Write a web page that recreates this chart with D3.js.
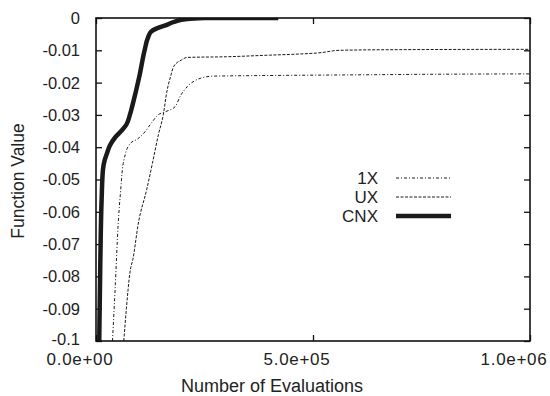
<!DOCTYPE html>
<meta charset="utf-8">
<script src="https://d3js.org/d3.v7.min.js"></script>
<style>
  body { margin: 0; background: #fff; }
  text { font-family: "Liberation Sans", Arial, sans-serif; fill: #222; }
</style>
<div id="chart"></div>
<script>
// evaluations vs. function value
var cnxData = [[7.5e3,-0.1],[1.0e4,-0.075],[1.3e4,-0.056],[1.6e4,-0.047],[2.0e4,-0.0440],[2.5e4,-0.0420],
  [3.2e4,-0.0395],[4.4e4,-0.0370],[5.8e4,-0.0350],[7.0e4,-0.0330],[7.8e4,-0.0300],[8.5e4,-0.0265],
  [1.0e5,-0.0180],[1.12e5,-0.0100],[1.2e5,-0.0060],[1.27e5,-0.0042],[1.4e5,-0.0032],[1.6e5,-0.0023],
  [1.8e5,-0.0012],[2.1e5,-0.0003],[2.5e5,0],[4.2e5,0]];
var oneXData = [[3.8e4,-0.1],[4.4e4,-0.084],[5.1e4,-0.064],[5.7e4,-0.053],[6.0e4,-0.048],[6.8e4,-0.042],
  [7.8e4,-0.039],[9.5e4,-0.0375],[1.08e5,-0.036],[1.25e5,-0.033],[1.43e5,-0.030],[1.6e5,-0.029],
  [1.82e5,-0.0275],[1.95e5,-0.024],[2.1e5,-0.0213],[2.4e5,-0.0187],[2.7e5,-0.0180],[4e5,-0.0178],
  [6e5,-0.0176],[8e5,-0.0174],[1e6,-0.0173]];
var uxData = [[6.4e4,-0.1],[7.0e4,-0.09],[7.8e4,-0.079],[8.6e4,-0.074],[9.7e4,-0.064],[1.17e5,-0.053],
  [1.3e5,-0.045],[1.44e5,-0.036],[1.55e5,-0.030],[1.63e5,-0.023],[1.72e5,-0.018],[1.79e5,-0.015],
  [1.97e5,-0.013],[2.1e5,-0.0122],[3e5,-0.0120],[4e5,-0.0115],[4.6e5,-0.0112],[5.2e5,-0.0107],
  [5.6e5,-0.0100],[7e5,-0.0098],[1e6,-0.0097]];

var seriesNames = ["1X", "UX", "CNX"];
var xTicks = [0, 5e5, 1e6];
var yTicks = [0, -0.01, -0.02, -0.03, -0.04, -0.05, -0.06, -0.07, -0.08, -0.09, -0.1];

var margin = {top: 18, right: 20, bottom: 55, left: 96},
    width = 530 - margin.left,
    height = 341 - margin.top;

var svg = d3.select("#chart").append("svg")
    .attr("width", 550)
    .attr("height", 396);
var g = svg.append("g")
    .attr("transform", "translate(" + margin.left + "," + margin.top + ")");

var x = d3.scaleLinear().domain([0, 1e6]).range([0, width]);
var y = d3.scaleLinear().domain([-0.1, 0]).range([height, 0]);

g.append("clipPath").attr("id", "clip")
  .append("rect").attr("width", width).attr("height", height);

// inward ticks on all four sides
g.append("g").call(d3.axisBottom(x).tickValues(xTicks).tickSize(-6).tickFormat(""))
    .attr("transform", "translate(0," + height + ")");
g.append("g").call(d3.axisTop(x).tickValues(xTicks).tickSize(-6).tickFormat(""));
g.append("g").call(d3.axisLeft(y).tickValues(yTicks).tickSize(-6).tickFormat(""));
g.append("g").call(d3.axisRight(y).tickValues(yTicks).tickSize(-6).tickFormat(""))
    .attr("transform", "translate(" + width + ",0)");
g.selectAll(".domain").remove();
g.selectAll(".tick line").attr("stroke", "#111").attr("stroke-width", 1.3);

// tick labels
g.selectAll(".xlab").data(xTicks).enter().append("text")
    .attr("x", function(d) { return x(d) - 16; })
    .attr("y", height + 24)
    .attr("text-anchor", "middle")
    .style("font-size", "17px")
    .style("letter-spacing", "0.7px")
    .text(function(d) { return d3.format(".1e")(d).replace(/e([+-])(\d)$/, "e$10$2"); });
g.selectAll(".ylab").data(yTicks).enter().append("text")
    .attr("x", -16)
    .attr("y", function(d) { return y(d) - (d === -0.1 ? 2 : 0); })
    .attr("dy", "0.36em")
    .attr("text-anchor", "end")
    .style("font-size", "16.5px")
    .text(function(d) { return d === 0 ? "0" : String(d); });

// curves
var line = d3.line()
    .x(function(d) { return x(d[0]); })
    .y(function(d) { return y(d[1]); });

var styles = {
  "1X": {data: oneXData, width: 1, dash: "3,2,1,2"},
  "UX": {data: uxData, width: 1, dash: "3,1.5"},
  "CNX": {data: cnxData, width: 4.5, dash: null}
};

seriesNames.forEach(function(name) {
  var s = styles[name];
  g.append("path")
      .datum(s.data)
      .attr("clip-path", "url(#clip)")
      .attr("fill", "none")
      .attr("stroke", "#1a1a1a")
      .attr("stroke-width", s.width)
      .attr("stroke-dasharray", s.dash)
      .attr("d", line.curve(name === "CNX" ? d3.curveMonotoneY : d3.curveMonotoneX));
});

// frame
g.append("rect")
    .attr("width", width).attr("height", height)
    .attr("fill", "none").attr("stroke", "#111").attr("stroke-width", 1.6);

// legend
var legend = g.selectAll(".legend").data(seriesNames).enter().append("g")
    .attr("transform", function(d, i) { return "translate(0," + (160 + i * 19) + ")"; });
legend.append("text")
    .attr("x", 378 - margin.left).attr("dy", "0.36em")
    .attr("text-anchor", "end")
    .style("font-size", "17px")
    .text(function(d) { return d; });
legend.append("line")
    .attr("x1", 396 - margin.left).attr("x2", 451 - margin.left)
    .attr("stroke", "#1a1a1a")
    .attr("stroke-width", function(d) { return styles[d].width; })
    .attr("stroke-dasharray", function(d) { return styles[d].dash; });

// axis titles
svg.append("text")
    .attr("x", 272).attr("y", 392)
    .attr("text-anchor", "middle")
    .style("font-size", "18px")
    .text("Number of Evaluations");
svg.append("text")
    .attr("transform", "translate(24,181) rotate(-90)")
    .attr("text-anchor", "middle")
    .style("font-size", "17.5px")
    .text("Function Value");
</script>
